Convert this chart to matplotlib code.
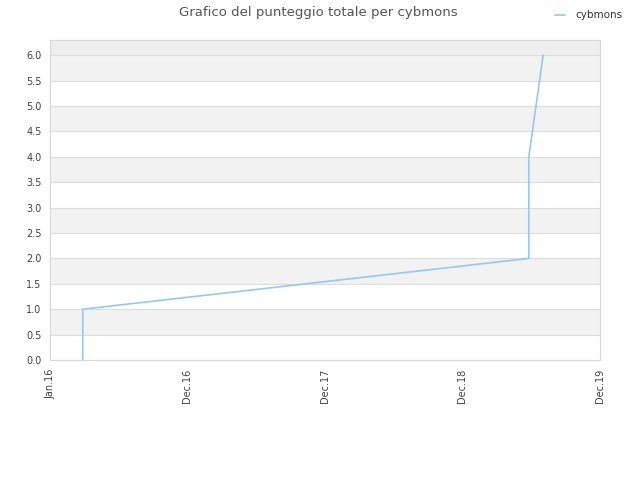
import matplotlib
matplotlib.use("Agg")
import matplotlib.pyplot as plt
from datetime import datetime

dates = ["2016-03-28", "2016-03-28", "2019-06-25", "2019-06-25", "2019-08-02"]
scores = [0, 1, 2, 4, 6]
series_name = "cybmons"
tick_dates = ["2016-01-01", "2016-12-31", "2017-12-31", "2018-12-31", "2019-12-31"]
tick_labels = ["Jan.16", "Dec.16", "Dec.17", "Dec.18", "Dec.19"]
y_ticks = [0.0, 0.5, 1.0, 1.5, 2.0, 2.5, 3.0, 3.5, 4.0, 4.5, 5.0, 5.5, 6.0]

x = [datetime.strptime(d, "%Y-%m-%d") for d in dates]
xt = [datetime.strptime(d, "%Y-%m-%d") for d in tick_dates]

fig = plt.figure(figsize=(6.4, 4.8), dpi=100)
ax = fig.add_axes([50/640, 120/480, 550/640, 320/480])
ax.set_xlim(xt[0], xt[-1])
ax.set_ylim(0, 6.3)

# alternating bands
for i in range(len(y_ticks) - 1):
    if i % 2 == 1:
        ax.axhspan(y_ticks[i], y_ticks[i + 1], color="#f2f2f2", zorder=0, lw=0)
ax.axhspan(6.0, 6.3, color="#eeeeee", zorder=0, lw=0)
for v in y_ticks:
    ax.axhline(v, color="#dddddd", lw=0.8, zorder=1)

ax.plot(x, scores, color="#99c6f2", lw=1.2, zorder=3, label=series_name)

ax.set_yticks(y_ticks)
ax.set_yticklabels([f"{v:.1f}" for v in y_ticks])
ax.set_xticks(xt)
ax.set_xticklabels(tick_labels, rotation=90)
ax.tick_params(axis="both", length=0, labelsize=7, colors="#444444", pad=6)
for s in ax.spines.values():
    s.set_color("#d8d8d8")
    s.set_linewidth(0.8)

fig.text(0.497, 0.974, "Grafico del punteggio totale per cybmons", ha="center", va="center",
         fontsize=9.5, color="#555555")
leg = fig.legend(loc="upper right", bbox_to_anchor=(0.987, 0.998), frameon=False,
                 fontsize=7.5, handlelength=0.9, handletextpad=1.0)
for t in leg.get_texts():
    t.set_color("#333333")

fig.savefig("out.png", dpi=100)
